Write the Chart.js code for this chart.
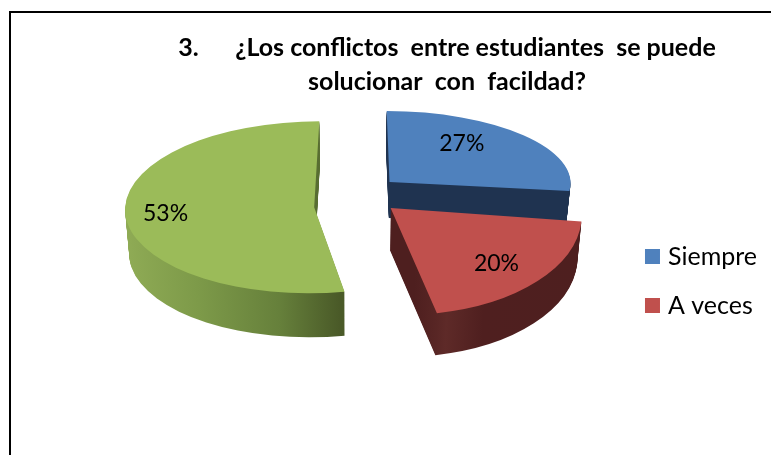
<!DOCTYPE html>
<html>
<head>
<meta charset="utf-8">
<style>
html,body{margin:0;padding:0;background:#fff;width:771px;height:455px;overflow:hidden}
#frame{position:absolute;left:9px;top:11px;width:800px;height:500px;border:2px solid #000;box-sizing:border-box}
canvas{position:absolute;left:0;top:0}
</style>
<script src="https://cdn.jsdelivr.net/npm/chart.js@4"></script>
</head>
<body>
<div id="frame"></div>
<canvas id="c" width="771" height="455"></canvas>
<script>
const categories = ['Siempre', 'A veces', 'Nunca'];
const values = [27, 20, 53];
const titleLines = ['3.      ¿Los conflictos  entre estudiantes  se puede', 'solucionar  con  facildad?'];
const faceColors = ['#4f81bd', '#c0504d', '#9bbb59'];

/* 3D look: per-slice screen radii, depth and lean */
const origin = {x: 356, y: 192};
const explode = 42;
const radiusX = [181, 191, 189];
const radiusY = [71, 107, 86];
const nudgeX = [2, 4, 0];
const lift = [1, 0, 13.5];
const lean = [0.04, 0.1, -0.06];
const depth = [36, 42, 44];
const labelRadius = [0.67, 0.76, 0.79];
const labelTurn = [-12, 0, 0];
const vanishX = 350, shrink = 0.018;
const drawOrder = [2, 0, 1];
const sideStops = [
  [[0, '#1f3350'], [1, '#1f3350']],
  [[0, '#4e1f1f'], [0.55, '#4e1f1f'], [0.62, '#5e2a28'], [0.72, '#4f1f1f'], [1, '#4e1f1f']],
  [[0, '#8fab55'], [0.2, '#7d9a49'], [0.42, '#66803b'], [0.58, '#4a5a28'], [1, '#4a5a28']]
];

function place(arc, i) {
  const mid = (arc.startAngle + arc.endAngle) / 2;
  return {
    mid,
    sx: radiusX[i] / arc.outerRadius,
    sy: radiusY[i] / arc.outerRadius,
    ax: origin.x + nudgeX[i] + Math.cos(mid) * explode,
    ay: origin.y + lift[i] + Math.sin(mid) * explode * radiusY[i] / radiusX[i]
  };
}

function drawFace(ctx, arc, p, i, drop) {
  ctx.save();
  ctx.translate(p.ax, p.ay + drop);
  ctx.transform(1, 0, lean[i], 1, 0, 0);
  ctx.scale(p.sx, p.sy);
  ctx.translate(-arc.x, -arc.y);
  arc.draw(ctx);
  ctx.restore();
}

const pie3d = {
  id: 'pie3d',
  beforeDatasetDraw(chart, args) {
    const ctx = chart.ctx;
    const arcs = chart.getDatasetMeta(args.index).data;
    drawOrder.forEach(i => {
      const arc = arcs[i];
      const p = place(arc, i);
      const base = arc.options;
      const grad = ctx.createLinearGradient(arc.x - arc.outerRadius, 0, arc.x + arc.outerRadius, 0);
      sideStops[i].forEach(s => grad.addColorStop(s[0], s[1]));
      arc.options = Object.assign({}, base, {backgroundColor: grad});
      for (let d = depth[i]; d >= 1; d--) {
        const f = 1 - shrink * d / depth[i];
        ctx.save();
        ctx.translate(vanishX, 0); ctx.scale(f, 1); ctx.translate(-vanishX, 0);
        drawFace(ctx, arc, p, i, d);
        ctx.restore();
      }
      arc.options = base;
      drawFace(ctx, arc, p, i, 0);
    });
    return false;
  },
  afterDatasetsDraw(chart) {
    const ctx = chart.ctx;
    const arcs = chart.getDatasetMeta(0).data;
    ctx.save();
    ctx.fillStyle = '#000';
    ctx.font = '23px Lato';
    ctx.textAlign = 'center';
    ctx.textBaseline = 'middle';
    arcs.forEach((arc, i) => {
      const p = place(arc, i);
      const a = p.mid + labelTurn[i] * Math.PI / 180;
      ctx.fillText(values[i] + '%',
        p.ax + Math.cos(a) * radiusX[i] * labelRadius[i],
        p.ay + Math.sin(a) * radiusY[i] * labelRadius[i]);
    });
    ctx.restore();
  }
};

new Chart(document.getElementById('c'), {
  type: 'pie',
  data: {
    labels: categories,
    datasets: [{data: values, backgroundColor: faceColors, borderWidth: 0}]
  },
  options: {
    responsive: false,
    animation: false,
    layout: {padding: {left: 127, right: 4, top: 0, bottom: 0}},
    plugins: {
      tooltip: {enabled: false},
      title: {
        display: true, text: titleLines, color: '#000',
        font: {family: 'Lato', size: 25, weight: 'bold', lineHeight: 1.36},
        padding: {top: 31, bottom: 8}
      },
      legend: {
        position: 'right',
        fullSize: false,
        labels: {
          color: '#000', boxWidth: 6, boxHeight: 6, padding: 24,
          font: {family: 'Lato', size: 25},
          generateLabels: chart => Chart.overrides.doughnut.plugins.legend.labels
            .generateLabels(chart).slice(0, 2)
            .map(item => Object.assign(item, {strokeStyle: item.fillStyle, lineWidth: 9}))
        }
      }
    }
  },
  plugins: [pie3d]
});
</script>
</body>
</html>
